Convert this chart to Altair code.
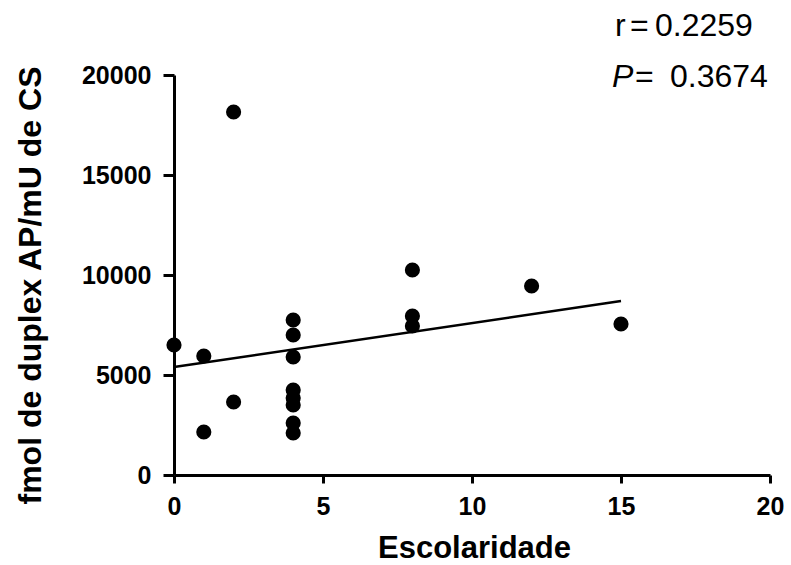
import altair as alt
import pandas as pd

# Data
escolaridade = [0, 1, 1, 2, 2, 4, 4, 4, 4, 4, 4, 4, 4, 8, 8, 8, 12, 15]
fmol = [6500, 5950, 2150, 18150, 3650, 7750, 7000, 5900, 4250, 3850, 3500,
        2600, 2100, 10250, 7950, 7450, 9450, 7550]
fit_x = [0, 15]
fit_y = [5400, 8700]
x_ticks = [0, 5, 10, 15, 20]
y_ticks = [0, 5000, 10000, 15000, 20000]
r_label = "0.2259"
p_label = "0.3674"

FONT = "Liberation Sans"

pts = pd.DataFrame({"x": escolaridade, "y": fmol})
fit = pd.DataFrame({"x": fit_x, "y": fit_y})

x_enc = alt.X(
    "x:Q",
    scale=alt.Scale(domain=[0, 20], nice=False, zero=False),
    axis=alt.Axis(
        values=x_ticks, title="Escolaridade", grid=False, format="d",
        domainColor="black", domainWidth=3, tickColor="black", tickWidth=3,
        tickSize=8, labelFont=FONT, labelFontSize=25, labelFontWeight="bold",
        labelColor="black", labelPadding=11, labelFlush=False, labelOverlap=False,
        titleFont=FONT, titleFontSize=31, titleFontWeight="bold", titleColor="black",
        titleX=300, titleY=82, titleBaseline="alphabetic", titleAlign="center",
    ),
)
y_enc = alt.Y(
    "y:Q",
    scale=alt.Scale(domain=[0, 20000], nice=False, zero=False),
    axis=alt.Axis(
        values=y_ticks, title="fmol de duplex AP/mU de CS", grid=False, format="d",
        domainColor="black", domainWidth=3, tickColor="black", tickWidth=3,
        tickSize=11, labelFont=FONT, labelFontSize=25, labelFontWeight="bold",
        labelColor="black", labelPadding=12, labelFlush=False, labelOverlap=False,
        titleFont=FONT, titleFontSize=32, titleFontWeight="bold", titleColor="black",
        titleAngle=270, titleX=-134, titleY=210, titleBaseline="alphabetic",
        titleAlign="center",
    ),
)

points = alt.Chart(pts).mark_circle(size=230, color="black", opacity=1).encode(
    x=x_enc, y=y_enc
)
line = alt.Chart(fit).mark_line(color="black", strokeWidth=2.5).encode(
    x="x:Q", y="y:Q"
)

one = pd.DataFrame({"a": [0]})


def txt(s, xpx, ypx, italic=False):
    return alt.Chart(one).mark_text(
        align="left", baseline="alphabetic", font=FONT, fontSize=32,
        color="black", fontStyle="italic" if italic else "normal",
    ).encode(x=alt.value(xpx), y=alt.value(ypx), text=alt.value(s))


annot = [
    txt("r", 441, -39),
    txt("=", 456, -39),
    txt(r_label, 481, -39),
    txt("P", 438, 12, italic=True),
    txt("=", 461, 12),
    txt(p_label, 496, 12),
]

chart = alt.layer(line, points, *annot).properties(
    width=596, height=400,
    autosize=alt.AutoSizeParams(type="none"),
    padding={"left": 174, "top": 75, "right": 21, "bottom": 90},
    background="white",
).configure_view(stroke=None)

chart.save("out.html", embed_options={"renderer": "svg", "actions": False})
